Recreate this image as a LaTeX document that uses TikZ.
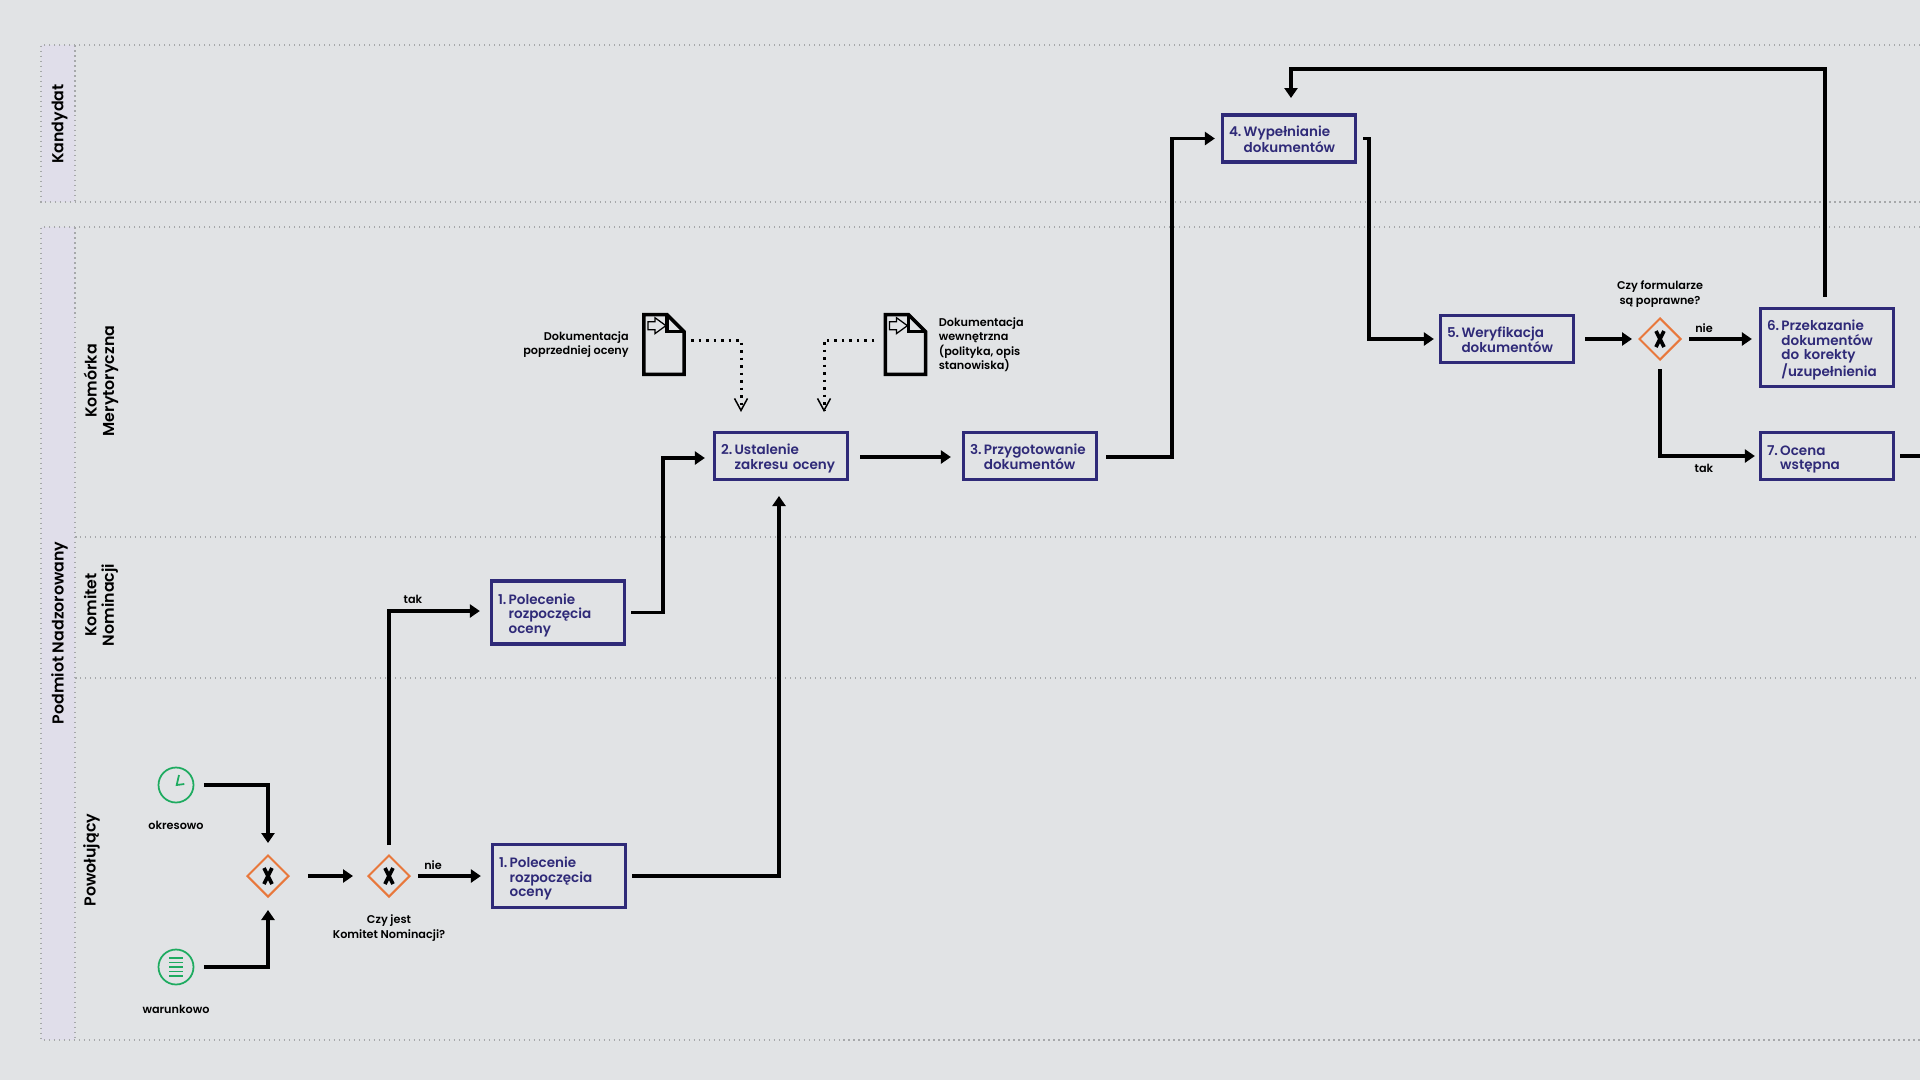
\documentclass[tikz,border=0pt]{standalone}
\usepackage{fontspec}
\setmainfont{Poppins}[BoldFont={Poppins SemiBold}]
\usetikzlibrary{arrows.meta,positioning,shapes.geometric,calc}
\definecolor{paper}{HTML}{E1E3E5}
\definecolor{lanehead}{HTML}{E0DEEA}
\definecolor{laneline}{HTML}{A6A8AA}
\definecolor{stepblue}{HTML}{2F2A78}
\definecolor{gateorange}{HTML}{E8783C}
\definecolor{eventgreen}{HTML}{1EAB60}
\newcommand{\numlabel}[2]{\rule{0pt}{0.33cm}#1\,\begin{tabular}[t]{@{}l@{}}#2\end{tabular}}
\tikzset{
	laneedge/.style={draw=laneline, line width=0.025cm, dash pattern=on 0.03cm off 0.07cm},
	lanetext/.style={rotate=90, align=center, font=\fontsize{9}{9.9}\selectfont\bfseries},
	stepbox/.style={draw=stepblue, line width=0.066cm, rectangle, text=stepblue, inner xsep=0.13cm, inner ysep=0pt,
		text width=2.4cm, align=left, minimum height=0.94cm, font=\fontsize{7.7}{8.1}\selectfont\bfseries},
	gate/.style={diamond, draw=gateorange, line width=0.04cm, minimum size=0.84cm, inner sep=0pt},
	gatecross/.style={line width=0.075cm},
	startevent/.style={circle, draw=eventgreen, line width=0.035cm, minimum size=0.7cm, inner sep=0pt},
	eventmark/.style={draw=eventgreen, line width=0.035cm},
	doc/.style={minimum width=0.79cm, minimum height=1.18cm, inner sep=0pt},
	docline/.style={draw=black, line width=0.07cm, line join=miter},
	caption/.style={align=center, font=\fontsize{6.4}{8.2}\selectfont\bfseries},
	flow/.style={draw=black, line width=0.066cm, -{Triangle[length=0.2cm,width=0.26cm]}},
	flowplain/.style={draw=black, line width=0.066cm},
	infoflow/.style={draw=black, line width=0.06cm, dash pattern=on 0.055cm off 0.095cm,
		-{Straight Barb[length=0.24cm,width=0.26cm,line width=0.03cm]}}
}
\begin{document}
\begin{tikzpicture}[x=0.02cm,y=-0.02cm]
	\useasboundingbox (0,0) rectangle (1920,1080);
	\fill[paper] (0,0) rectangle (1920,1080);

	% Pools and lanes
	\fill[lanehead] (41,45) rectangle (75,202);
	\fill[lanehead] (41,227) rectangle (75,1040);
	\draw[laneedge] (1920,45) -- (41,45) -- (41,202) -- (1920,202);
	\draw[laneedge] (1920,227) -- (41,227) -- (41,1040) -- (1920,1040);
	\draw[laneedge] (75,45) -- (75,202);
	\draw[laneedge] (75,227) -- (75,1040);
	\draw[laneedge] (75,537) -- (1920,537);
	\draw[laneedge] (75,678) -- (1920,678);

	\node[lanetext] (laneKandydat) at (59.5,124) {Kandydat};
	\node[lanetext] (lanePodmiot) at (59.5,633) {Podmiot Nadzorowany};
	\node[lanetext] (laneKomorka) at (101,381) {Komórka\\Merytoryczna};
	\node[lanetext] (laneKomitet) at (101,605) {Komitet\\Nominacji};
	\node[lanetext] (lanePowolujacy) at (91.5,860) {Powołujący};

	% Start events
	\node[startevent] (clockEvent) at (176,785) {};
	\draw[eventmark] ($(clockEvent)+(3,-10)$) -- ($(clockEvent)+(0.7,0)$) -- ($(clockEvent)+(8.3,-1)$);
	\node[startevent] (ruleEvent) at (176,967) {};
	\foreach \y in {-8.8,-4.4,0,4.4,8.8} {
		\draw[eventmark] ($(ruleEvent)+(-7,\y)$) -- ($(ruleEvent)+(7,\y)$);
	}
	\node[caption] (okresowo) at (176,825) {okresowo};
	\node[caption] (warunkowo) at (176,1009) {warunkowo};

	% Gateways
	\node[gate] (gateMerge) at (268,876) {};
	\node[gate] (gateKomitet) at (389,876) {};
	\node[gate] (gateForms) at (1660,339) {};
	\foreach \g in {gateMerge,gateKomitet,gateForms} {
		\draw[gatecross] ($(\g)+(-4,-8)$) -- ($(\g)+(4,8)$);
		\draw[gatecross] ($(\g)+(4,-8)$) -- ($(\g)+(-4,8)$);
	}
	\node[caption] (askKomitet) at (389,928) {Czy jest\\Komitet Nominacji?};
	\node[caption] (askForms) at (1660,294) {Czy formularze\\są poprawne?};

	% Process steps
	\node[stepbox, minimum height=1.26cm] (stepOneB) at (559,876) {\numlabel{1.}{Polecenie\\rozpoczęcia\\oceny}};
	\node[stepbox, minimum height=1.26cm] (stepOneA) at (558,612.5) {\numlabel{1.}{Polecenie\\rozpoczęcia\\oceny}};
	\node[stepbox] (stepTwo) at (781,456) {\numlabel{2.}{Ustalenie\\zakresu oceny}};
	\node[stepbox] (stepThree) at (1030,456) {\numlabel{3.}{Przygotowanie\\dokumentów}};
	\node[stepbox] (stepFour) at (1289,138.5) {\numlabel{4.}{Wypełnianie\\dokumentów}};
	\node[stepbox] (stepFive) at (1507,339) {\numlabel{5.}{Weryfikacja\\dokumentów}};
	\node[stepbox, minimum height=1.56cm] (stepSix) at (1827,347.5) {\numlabel{6.}{Przekazanie\\dokumentów\\do korekty\\/uzupełnienia}};
	\node[stepbox] (stepSeven) at (1827,456) {\numlabel{7.}{Ocena\\wstępna}};

	% Documents
	\node[doc] (docPrev) at (664,344.5) {};
	\node[doc] (docInner) at (905.5,344.5) {};
	\foreach \d in {docPrev,docInner} {
		\draw[docline] (\d.north west) -- ($(\d.north east)+(-17,0)$) -- ($(\d.north east)+(0,17)$)
			-- (\d.south east) -- (\d.south west) -- cycle;
		\draw[docline] ($(\d.north east)+(-17,0)$) -- ($(\d.north east)+(-17,17)$) -- ($(\d.north east)+(0,17)$);
		\draw[draw=black, line width=0.025cm] ($(\d.north west)+(4,7)$) -- ($(\d.north west)+(11,7)$)
			-- ($(\d.north west)+(11,3)$) -- ($(\d.north west)+(22,11)$) -- ($(\d.north west)+(11,19)$)
			-- ($(\d.north west)+(11,15)$) -- ($(\d.north west)+(4,15)$) -- cycle;
	}
	\node[caption, left=0.18cm of docPrev, align=right] (docPrevText) {Dokumentacja\\poprzedniej oceny};
	\node[caption, right=0.14cm of docInner, align=left] (docInnerText) {Dokumentacja\\wewnętrzna\\(polityka, opis\\stanowiska)};
	\coordinate (docPrevOut) at (docPrev.east |- 0,340);
	\coordinate (docInnerOut) at (docInner.west |- 0,340);
	\coordinate (docPrevEnd) at (741,412);
	\coordinate (docInnerEnd) at (824,412);
	\draw[infoflow, shorten <=0.14cm] (docPrevOut) -| (docPrevEnd);
	\draw[infoflow, shorten <=0.22cm] (docInnerOut) -| (docInnerEnd);

	% Flow connectors
	\coordinate (bendClock) at (268,785);
	\coordinate (bendRule) at (268,967);
	\coordinate (bendTak) at (389,611);
	\coordinate (bendOneA) at (663,458);
	\coordinate (bendOneB) at (779,876);
	\coordinate (stepTwoBase) at (779,481);
	\coordinate (stepTwoOut) at (stepTwo.east |- 0,457);
	\coordinate (stepThreeIn) at (stepThree.west |- 0,457);
	\coordinate (stepThreeOut) at (stepThree.east |- 0,457);
	\coordinate (bendThree) at (1172,138.5);
	\coordinate (bendFour) at (1369,339);
	\coordinate (bendFormsTak) at (1660,456);
	\coordinate (backCorner) at (1825,69);
	\coordinate (backDown) at (1291,69);
	\coordinate (stepFourTop) at (1291,114);
	\coordinate (leaveRight) at (1920,456);

	\draw[flow, shorten <=0.56cm, shorten >=0.22cm] (clockEvent.center) -- (bendClock) -- (gateMerge.north);
	\draw[flow, shorten <=0.56cm, shorten >=0.24cm] (ruleEvent.center) -- (bendRule) -- (gateMerge.south);
	\draw[flow, shorten <=0.36cm, shorten >=0.28cm] (gateMerge.east) -- (gateKomitet.west);
	\draw[flow, shorten <=0.58cm, shorten >=0.2cm] (gateKomitet.center) -- (stepOneB.west);
	\draw[flow, shorten <=0.62cm, shorten >=0.2cm] (gateKomitet.center) -- (bendTak) -- (bendTak -| stepOneA.west);
	\draw[flow, shorten <=0.1cm, shorten >=0.16cm] (stepOneA.east) -| (bendOneA) -- (bendOneA -| stepTwo.west);
	\draw[flow, shorten <=0.1cm, shorten >=0.3cm] (stepOneB.east) -- (bendOneB) -- (stepTwoBase);
	\draw[flow, shorten <=0.22cm, shorten >=0.22cm] (stepTwoOut) -- (stepThreeIn);
	\draw[flow, shorten <=0.16cm, shorten >=0.12cm] (stepThreeOut) -| (bendThree) -- (stepFour.west);
	\draw[flow, shorten <=0.12cm, shorten >=0.1cm] (stepFour.east) -| (bendFour) -- (stepFive.west);
	\draw[flow, shorten <=0.2cm, shorten >=0.56cm] (stepFive.east) -- (gateForms.center);
	\draw[flow, shorten <=0.58cm, shorten >=0.14cm] (gateForms.center) -- (gateForms.center -| stepSix.west);
	\draw[flow, shorten <=0.6cm, shorten >=0.08cm] (gateForms.center) -- (bendFormsTak) -- (stepSeven.west);
	\draw[flowplain, shorten <=0.1cm] (stepSeven.east) -- (leaveRight);
	\draw[flow, shorten <=0.2cm, shorten >=0.32cm] (stepSix.north -| backCorner) -- (backCorner) -- (backDown) -- (stepFourTop);

	% Flow labels
	\node[caption] (nieKomitet) at (433,865) {nie};
	\node[caption] (takKomitet) at (413,599) {tak};
	\node[caption] (nieForms) at (1704,328) {nie};
	\node[caption] (takForms) at (1704,468) {tak};
\end{tikzpicture}
\end{document}
